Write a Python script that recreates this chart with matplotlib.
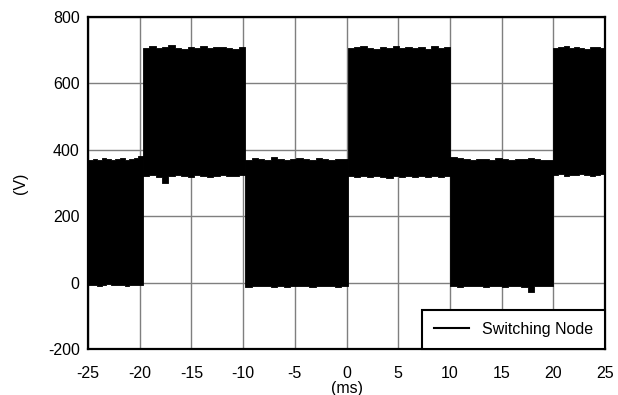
import numpy as np
import matplotlib.pyplot as plt
from matplotlib.lines import Line2D

plt.rcParams['font.family'] = ['Liberation Sans', 'DejaVu Sans']
plt.rcParams['axes.unicode_minus'] = False

# switching node waveform: segment edges (ms) and envelope (V)
seg_edges = [-25.0, -19.7, -9.8, 0.1, 10.05, 20.0, 25.0]
seg_top = [
    [368, 372, 370, 375, 371, 369, 373, 376, 370, 372, 374, 380],
    [708, 712, 706, 709, 715, 707, 705, 710, 708, 712, 706, 709, 711, 707, 705, 710],
    [370, 374, 372, 369, 378, 371, 370, 373, 376, 372, 370, 374, 371, 369, 373, 372],
    [706, 709, 712, 707, 705, 710, 708, 714, 706, 709, 707, 711, 705, 712, 708, 710],
    [378, 376, 372, 370, 373, 371, 369, 374, 372, 370, 373, 371, 375, 372, 370, 369],
    [706, 709, 712, 707, 710, 708, 705, 711, 709, 706],
]
seg_bot = [
    [-8, -6, -9, -7, -5, -8, -6, -7, -9, -6, -8, -7],
    [322, 325, 318, 300, 320, 324, 321, 319, 323, 320, 318, 322, 324, 320, 321, 323],
    [-12, -10, -9, -11, -13, -10, -12, -9, -11, -10, -12, -11, -9, -10, -12, -11],
    [320, 318, 322, 317, 321, 319, 316, 320, 318, 322, 319, 321, 317, 320, 318, 322],
    [-10, -12, -9, -11, -10, -13, -11, -9, -12, -10, -11, -13, -28, -10, -9, -11],
    [324, 326, 322, 325, 323, 327, 324, 322, 325, 326],
]

fig = plt.figure(figsize=(6.18, 3.95), dpi=100)
ax = fig.add_axes([0.1424, 0.1165, 0.8366, 0.8405])

for i in range(len(seg_top)):
    n = len(seg_top[i])
    t = np.linspace(seg_edges[i], seg_edges[i + 1], n + 1)
    top = np.append(seg_top[i], seg_top[i][-1])
    bot = np.append(seg_bot[i], seg_bot[i][-1])
    ax.fill_between(t, bot, top, step='post', color='black', lw=0.6, zorder=3)

ax.set_xlim(-25, 25)
ax.set_ylim(-200, 800)
ax.set_xticks(np.arange(-25, 26, 5))
ax.set_yticks(np.arange(-200, 801, 200))
ax.grid(True, color='#7f7f7f', lw=1.0)
ax.set_axisbelow(True)
ax.tick_params(length=0, labelsize=11.5)
ax.tick_params(axis='x', pad=12)
ax.tick_params(axis='y', pad=6)
for s in ax.spines.values():
    s.set_linewidth(1.6)
    s.set_zorder(5)

ax.set_xlabel('(ms)', fontsize=11.5, labelpad=0)
ax.set_ylabel('(V)', fontsize=11.5, labelpad=14)

handle = Line2D([], [], color='black', lw=1.5)
leg = ax.legend([handle], ['Switching Node'], loc='lower right', fontsize=11.5,
                fancybox=False, framealpha=1, edgecolor='black',
                borderaxespad=0, handlelength=2.2, handletextpad=0.8,
                borderpad=0.75)
leg.get_frame().set_linewidth(1.5)
leg.set_zorder(6)

fig.savefig('out.png', dpi=100)
